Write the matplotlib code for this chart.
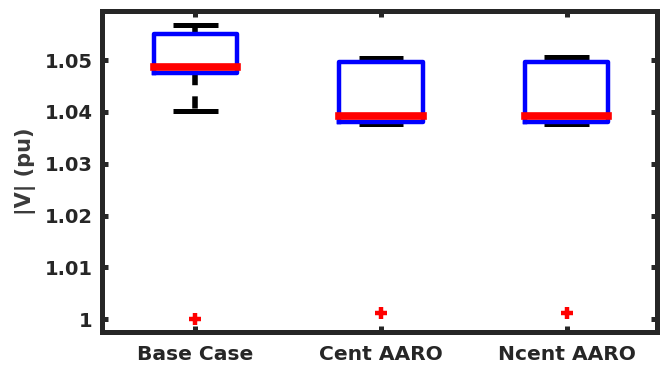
import matplotlib
matplotlib.use("Agg")
import matplotlib.pyplot as plt

categories = ["Base Case", "Cent AARO", "Ncent AARO"]
whislo = [1.0402, 1.0376, 1.0376]
q1 = [1.0476, 1.0380, 1.0380]
med = [1.0486, 1.0392, 1.0392]
q3 = [1.0550, 1.0497, 1.0497]
whishi = [1.0568, 1.05045, 1.05064]
outliers = [[1.0000], [1.00116], [1.00116]]
yticks = [1.00, 1.01, 1.02, 1.03, 1.04, 1.05]
ytick_labels = ["1", "1.01", "1.02", "1.03", "1.04", "1.05"]

stats = []
for i, c in enumerate(categories):
    stats.append(dict(label=c, whislo=whislo[i], q1=q1[i], med=med[i],
                      q3=q3[i], whishi=whishi[i], fliers=outliers[i]))

dark = "#262626"
plt.rcParams['font.family'] = ['DejaVu Sans']
fig = plt.figure(figsize=(6.61, 3.71), dpi=100)
ax = fig.add_axes([0.155, 0.105, 0.8397, 0.8654])

ax.bxp(stats, positions=[1, 2, 3], widths=0.45, capwidths=0.24,
       boxprops=dict(color="#0000ff", linewidth=3.2, zorder=3),
       medianprops=dict(color="#ff0000", linewidth=5.5, solid_capstyle='projecting', zorder=4),
       whiskerprops=dict(color="black", linewidth=4, linestyle=(0, (2.2, 2.0)),
                         dash_capstyle='butt', zorder=2),
       capprops=dict(color="black", linewidth=3.6, solid_capstyle='butt', zorder=2),
       flierprops=dict(marker='+', markeredgecolor='#ff0000', markersize=9,
                       markeredgewidth=3.2, linestyle='none', zorder=3))

ax.set_xlim(0.5, 3.49)
ax.set_ylim(0.9975, 1.0595)
ax.set_yticks(yticks)
ax.set_yticklabels(ytick_labels)
ax.set_xticks([1, 2, 3])
ax.set_xticklabels(categories)

for s in ax.spines.values():
    s.set_linewidth(3.6)
    s.set_color(dark)

ax.tick_params(axis='both', direction='in', length=4.5, width=3.6, color=dark,
               labelsize=14, labelcolor=dark, top=True, right=True)
ax.tick_params(axis='y', pad=7)
ax.tick_params(axis='x', pad=9, labelsize=14.6)
for lab in ax.get_xticklabels() + ax.get_yticklabels():
    lab.set_fontweight('bold')

ax.set_ylabel("|V| (pu)", fontsize=15, fontweight='bold', color="#3a3a3a", labelpad=6)

fig.savefig("out.png", dpi=100)
